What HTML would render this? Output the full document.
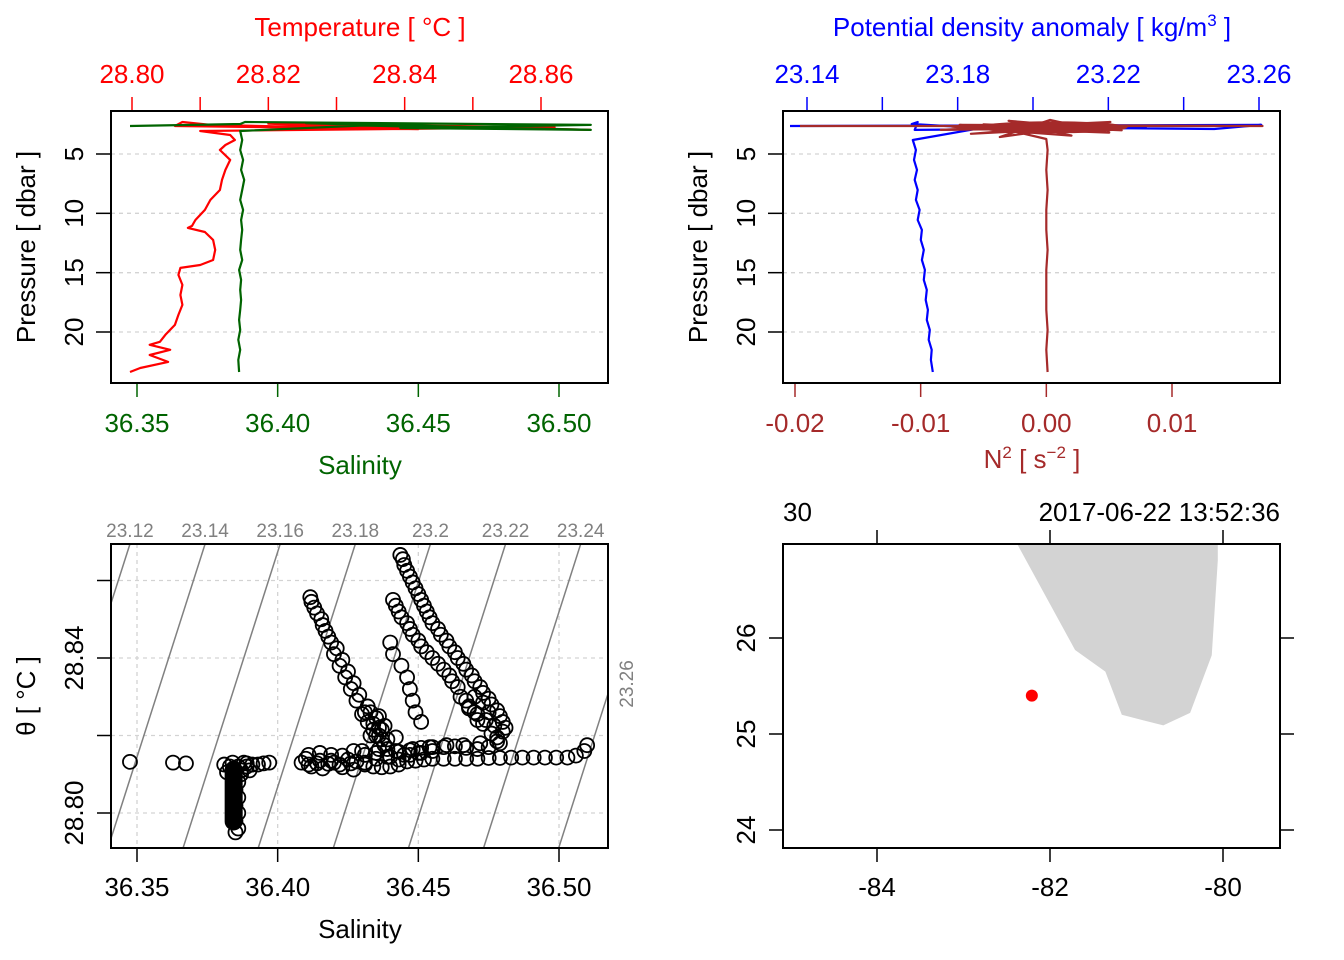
<!DOCTYPE html>
<html><head><meta charset="utf-8"><style>
html,body{margin:0;padding:0;background:#fff;overflow:hidden;}
svg{display:block;font-family:"Liberation Sans",sans-serif;}
</style></head><body>
<svg id="s" width="1344" height="960" viewBox="0 0 1344 960" xmlns="http://www.w3.org/2000/svg"></svg>
<script>
// ---- data ----
const tP=[2.97,2.81,2.72,2.55,2.30,2.64,2.90,2.45,2.75,3.06,3.40,3.82,4.24,4.66,5.50,6.34,7.18,8.03,8.87,9.71,10.56,11.06,11.23,11.57,12.24,13.08,13.93,14.35,14.60,15.19,16.03,16.88,17.72,18.56,19.40,20.24,20.83,21.08,21.50,21.94,22.52,23.03,23.37];
const tT=[28.8673,28.8570,28.8247,28.8115,28.8074,28.8063,28.8420,28.8200,28.8620,28.8100,28.8144,28.8151,28.8137,28.8129,28.8144,28.8137,28.8132,28.8129,28.8115,28.8107,28.8093,28.8088,28.8082,28.8107,28.8119,28.8122,28.8119,28.8100,28.8071,28.8068,28.8074,28.8071,28.8074,28.8068,28.8063,28.8049,28.8041,28.8026,28.8056,28.8026,28.8053,28.8012,28.7997];
const sP=[2.64,2.47,2.30,2.55,2.81,2.97,2.40,2.85,2.60,3.06,3.82,4.66,5.50,6.34,7.18,8.03,8.87,9.71,10.56,11.40,12.24,13.08,13.93,14.77,15.61,16.45,17.30,18.14,18.98,19.82,20.66,21.50,22.35,23.37];
const sS=[36.3475,36.3867,36.3884,36.5113,36.4436,36.5113,36.4100,36.4800,36.4300,36.3867,36.3874,36.3867,36.3877,36.3870,36.3881,36.3874,36.3867,36.3877,36.3870,36.3874,36.3870,36.3867,36.3874,36.3863,36.3870,36.3867,36.3870,36.3867,36.3863,36.3867,36.3860,36.3867,36.3860,36.3863];
const dP=[2.64,2.55,2.89,2.72,2.47,2.30,2.97,2.80,2.60,3.82,4.66,5.50,6.34,7.18,8.03,8.87,9.71,10.56,11.40,12.24,13.08,13.93,14.77,15.61,16.45,17.30,18.14,18.98,19.82,20.66,21.50,22.35,23.37];
const dS=[23.1355,23.2606,23.2481,23.1808,23.1678,23.1694,23.1686,23.2300,23.1900,23.1681,23.1689,23.1684,23.1692,23.1686,23.1694,23.1689,23.1699,23.1694,23.1705,23.1702,23.1710,23.1705,23.1713,23.1710,23.1718,23.1715,23.1721,23.1718,23.1726,23.1723,23.1731,23.1729,23.1734];
const nP=[2.64,2.64,2.55,3.06,2.13,3.57,2.30,2.97,2.81,3.30,2.40,3.20,2.70,3.45,2.20,3.00,2.50,3.74,4.66,6.34,8.03,9.71,11.40,13.08,14.77,16.45,18.14,19.82,21.50,23.37];
const nN=[-0.0196,0.0172,-0.0069,0.0043,0.0003,-0.0037,0.0051,-0.0084,0.0027,-0.0060,0.0045,0.0050,-0.0075,0.0020,-0.0030,0.0060,-0.0050,0.0000,0.0001,0.0000,0.0001,0.0000,0.0000,0.0001,0.0000,0.0000,0.0000,0.0001,0.0000,0.0001];
const tsS=[36.3475,36.3628,36.3674,36.384,36.386,36.387,36.386,36.385,36.386,36.385,36.386,36.385,36.386,36.385,36.387,36.383,36.388,36.389,36.391,36.393,36.395,36.397,36.4085,36.411,36.414,36.418,36.422,36.426,36.428,36.431,36.434,36.437,36.440,36.443,36.446,36.449,36.452,36.455,36.459,36.463,36.467,36.471,36.475,36.479,36.483,36.487,36.491,36.495,36.499,36.503,36.506,36.509,36.510,36.430,36.436,36.442,36.448,36.454,36.460,36.466,36.472,36.4116,36.413,36.4155,36.417,36.419,36.420,36.422,36.424,36.426,36.428,36.431,36.434,36.436,36.438,36.430,36.433,36.436,36.436,36.433,36.437,36.4436,36.445,36.447,36.449,36.451,36.453,36.455,36.458,36.461,36.464,36.467,36.470,36.473,36.476,36.479,36.481,36.441,36.443,36.446,36.448,36.451,36.455,36.459,36.462,36.465,36.468,36.471,36.440,36.441,36.444,36.446,36.447,36.448,36.449,36.451,36.470,36.473,36.475,36.415,36.420,36.425,36.440,36.445,36.450,36.478,36.480,
36.412,36.414,36.416,36.418,36.421,36.423,36.425,36.427,36.429,36.432,36.435,36.437,36.4445,36.446,36.448,36.450,36.452,36.454,36.457,36.460,36.463,36.466,36.469,36.472,36.475,36.478,36.480,36.442,36.444,36.447,36.450,36.453,36.457,36.461,36.464,36.467,36.470,36.473,36.476,36.478,36.410,36.412,36.416,36.419,36.423,36.427,36.431,36.435,36.439,36.443,36.447,36.451,36.455,36.459,36.463,36.467,36.471,36.475,36.479,36.411,36.415,36.419,36.423,36.427,36.431,36.435,36.439,36.443,36.447,36.451,36.455,36.432,36.434,36.438,36.435,36.439,36.442,36.468,36.471,36.474,36.477,36.381,36.389,36.382,36.390];
const tsT=[28.8132,28.8130,28.8128,28.813,28.812,28.810,28.808,28.806,28.804,28.802,28.800,28.798,28.796,28.795,28.811,28.812,28.813,28.812,28.8125,28.8125,28.8128,28.8130,28.8130,28.8125,28.8128,28.8127,28.8125,28.8128,28.8133,28.8125,28.812,28.8118,28.812,28.8125,28.8133,28.8135,28.8138,28.8140,28.814,28.814,28.814,28.814,28.8142,28.8142,28.8143,28.8143,28.8143,28.8143,28.8143,28.8143,28.8148,28.816,28.8175,28.816,28.8165,28.816,28.8165,28.817,28.8175,28.8175,28.818,28.8557,28.853,28.850,28.847,28.844,28.841,28.838,28.835,28.832,28.829,28.826,28.823,28.820,28.8175,28.8255,28.826,28.825,28.822,28.820,28.819,28.8666,28.864,28.861,28.858,28.855,28.852,28.849,28.846,28.843,28.840,28.837,28.834,28.831,28.828,28.825,28.822,28.855,28.852,28.849,28.846,28.843,28.840,28.837,28.834,28.830,28.827,28.824,28.844,28.841,28.838,28.835,28.832,28.829,28.826,28.8235,28.830,28.8285,28.826,28.8135,28.8130,28.8138,28.8145,28.8150,28.8155,28.8195,28.8210,
28.8545,28.8515,28.8485,28.8455,28.8425,28.8395,28.8365,28.8335,28.8305,28.8275,28.8245,28.8215,28.8655,28.8625,28.8595,28.8565,28.8535,28.8505,28.8475,28.8445,28.8415,28.8385,28.8355,28.8325,28.8295,28.8265,28.8235,28.8535,28.8505,28.8475,28.8445,28.8415,28.8385,28.8355,28.8325,28.8290,28.8260,28.8230,28.8205,28.8185,28.8140,28.8120,28.8115,28.8135,28.8118,28.8112,28.8130,28.8140,28.8145,28.8138,28.8150,28.8155,28.8160,28.8170,28.8172,28.8168,28.8165,28.8170,28.8180,28.8150,28.8155,28.8150,28.8148,28.8160,28.8150,28.8155,28.8165,28.8158,28.8162,28.8168,28.8170,28.8235,28.8215,28.8225,28.8200,28.8190,28.8195,28.8275,28.8255,28.8240,28.8225,28.8125,28.8128,28.8105,28.8110];
const rhoLevels=[23.12,23.14,23.16,23.18,23.20,23.22,23.24,23.26];
const landLon=[-82.38,-81.71,-81.36,-81.17,-80.69,-80.38,-80.13,-80.06,-80.06];
const landLat=[26.98,25.875,25.65,25.20,25.09,25.22,25.82,26.81,26.98];
const stnLon=[-82.21], stnLat=[25.40];
// ---- helpers ----
const NS='http://www.w3.org/2000/svg', svg=document.getElementById('s');
function mk(tag,at,txt,parent){const e=document.createElementNS(NS,tag);for(const k in at)e.setAttribute(k,at[k]);if(txt!=null)e.textContent=txt;(parent||svg).appendChild(e);return e;}
function lin(d0,d1,r0,r1){return v=>r0+(v-d0)*(r1-r0)/(d1-d0);}
const xS=lin(36.35,36.50,137,559);
const yP1=lin(5,20,154,332);
const xT=lin(28.80,28.86,132,541);
const xSig=lin(23.14,23.26,807,1259);
const xN=lin(-0.02,0.01,795,1172);
const yTh=lin(28.80,28.84,813,658);
const xLon=lin(-84,-80,877,1223);
const yLat=lin(24,26,830,638);
const FS=26;
function txt(x,y,s,col,size,anchor,rot,name){const a={x:x,y:y,fill:col,'font-size':size,'text-anchor':anchor||'middle'};if(rot)a.transform='rotate(-90 '+x+' '+y+')';const e=mk('text',a,s);return e;}
function line(x1,y1,x2,y2,col,w,dash,name){const a={x1:x1,y1:y1,x2:x2,y2:y2,stroke:col,'stroke-width':w};if(dash)a['stroke-dasharray']=dash;const e=mk('line',a);return e;}
function box(x,y,w,h,name){const e=mk('rect',{x:x,y:y,width:w,height:h,fill:'none',stroke:'#000','stroke-width':2});}
function poly(xs,ys,col,w,name,clip){const pts=xs.map((x,i)=>x.toFixed(1)+','+ys[i].toFixed(1)).join(' ');const a={points:pts,fill:'none',stroke:col,'stroke-width':w,'stroke-linejoin':'round'};if(clip)a['clip-path']=clip;const e=mk('polyline',a);}
const defs=mk('defs',{});
[['c1',111,111,272],['c2',783,111,272],['c3',111,544,304],['c4',783,544,304]].forEach(c=>{const cp=mk('clipPath',{id:c[0]},null,defs);mk('rect',{x:c[1],y:c[2],width:497,height:c[3]},null,cp);});
const G='#d3d3d3', RED='#ff0000', GRN='#006400', BLU='#0000ff', BRN='#a52a2a';

// ---- Panel 1 ----
[5,10,15,20].forEach(p=>{line(111,yP1(p),608,yP1(p),G,1.3,'4,4','pressure-grid');line(96,yP1(p),111,yP1(p),'#000',1.5,null,'pressure-tick');txt(83,yP1(p),String(p),'#000',FS,'middle',true,'pressure-tick-label');});
txt(35,247,'Pressure [ dbar ]','#000',FS,'middle',true,'y-axis-title');
[36.35,36.40,36.45,36.50].forEach(s=>{line(xS(s),383,xS(s),397,GRN,1.5,null,'salinity-tick');txt(xS(s),432,s.toFixed(2),GRN,FS,'middle',false,'salinity-tick-label');});
txt(360,474,'Salinity',GRN,FS,'middle',false,'salinity-axis-title');
[28.80,28.81,28.82,28.83,28.84,28.85,28.86].forEach((t,i)=>{line(xT(t),97,xT(t),111,RED,1.5,null,'temperature-tick');if(i%2==0)txt(xT(t),83,t.toFixed(2),RED,FS,'middle',false,'temperature-tick-label');});
txt(360,36,'Temperature [ °C ]',RED,FS,'middle',false,'temperature-axis-title');
poly(tT.map(xT),tP.map(yP1),RED,2.2,'temperature-profile','url(#c1)');
poly(sS.map(xS),sP.map(yP1),GRN,2.2,'salinity-profile','url(#c1)');
box(111,111,497,272,'profile-panel-frame');

// ---- Panel 2 ----
[5,10,15,20].forEach(p=>{line(783,yP1(p),1280,yP1(p),G,1.3,'4,4','pressure-grid');line(768,yP1(p),783,yP1(p),'#000',1.5,null,'pressure-tick');txt(755,yP1(p),String(p),'#000',FS,'middle',true,'pressure-tick-label');});
txt(707,247,'Pressure [ dbar ]','#000',FS,'middle',true,'y-axis-title-2');
[23.14,23.16,23.18,23.20,23.22,23.24,23.26].forEach((s,i)=>{line(xSig(s),97,xSig(s),111,BLU,1.5,null,'density-tick');if(i%2==0)txt(xSig(s),83,s.toFixed(2),BLU,FS,'middle',false,'density-tick-label');});
const dt=txt(1032,36,'Potential density anomaly [ kg/m','#0000ff',FS,'middle',false,'density-axis-title');
mk('tspan',{dy:-10,'font-size':17},'3',dt);mk('tspan',{dy:10},' ]',dt);
[-0.02,-0.01,0.00,0.01].forEach(n=>{line(xN(n),383,xN(n),397,BRN,1.5,null,'n2-tick');txt(xN(n),432,n.toFixed(2),BRN,FS,'middle',false,'n2-tick-label');});
const nt=txt(1032,468,'N',BRN,FS,'middle',false,'n2-axis-title');
mk('tspan',{dy:-10,'font-size':17},'2',nt);mk('tspan',{dy:10},' [ s',nt);mk('tspan',{dy:-10,'font-size':17},'−2',nt);mk('tspan',{dy:10},' ]',nt);
poly(dS.map(xSig),dP.map(yP1),BLU,2.2,'density-profile','url(#c2)');
poly(nN.map(xN),nP.map(yP1),BRN,2.2,'n2-profile','url(#c2)');
const nb=mk('ellipse',{cx:xN(0.0005),cy:yP1(2.75),rx:75,ry:6,fill:BRN,'clip-path':'url(#c2)'});

box(783,111,497,272,'density-panel-frame');

// ---- Panel 3: TS ----
[36.35,36.40,36.45,36.50].forEach(s=>{line(xS(s),544,xS(s),848,G,1.3,'4,4','ts-grid-v');line(xS(s),848,xS(s),862,'#000',1.5,null,'ts-salinity-tick');txt(xS(s),896,s.toFixed(2),'#000',FS,'middle',false,'ts-salinity-tick-label');});
[28.80,28.82,28.84,28.86].forEach(t=>{line(111,yTh(t),608,yTh(t),G,1.3,'4,4','ts-grid-h');line(97,yTh(t),111,yTh(t),'#000',1.5,null,'theta-tick');});
[28.80,28.84].forEach(t=>txt(83,yTh(t),t.toFixed(2),'#000',FS,'middle',true,'theta-tick-label'));
txt(360,938,'Salinity','#000',FS,'middle',false,'ts-x-axis-title');
txt(35,696,'θ [ °C ]','#000',FS,'middle',true,'ts-y-axis-title');
// isopycnals: sigma ≈ 23.14 + 0.749*(S-36.3742) - 0.3297*(θ-28.8694)
const B=0.749, C=0.3297, S0=36.3742, T0=28.8694;
const thBot=28.80+(813-848)/77.5*0.02, sRight=36.35+(608-137)/140.5*0.05;
function sAt(sig,th){return S0+(sig-23.14+C*(th-T0))/B;}
rhoLevels.forEach(r=>{const x1=xS(sAt(r,T0)),x2=xS(sAt(r,thBot));const e=mk('line',{x1:x1,y1:544,x2:x2,y2:848,stroke:'#808080','stroke-width':1.5,'clip-path':'url(#c3)'});
 const lab=(Math.round(r*100)%10==0)?r.toFixed(1):r.toFixed(2);
 if(x1<=612)txt(x1,537,lab,'#808080',19,'middle',false,'isopycnal-label');
 else{const th=T0+(B*(sRight-S0)-(r-23.14))/C;txt(633,yTh(th)-8,lab,'#808080',19,'middle',true,'isopycnal-label');}});
const blob=mk('rect',{x:xS(36.384)-8,y:yTh(28.8135),width:18,height:yTh(28.7955)-yTh(28.8135),rx:9,fill:'#000'});

const g3=mk('g',{'clip-path':'url(#c3)'});
tsS.forEach((s,i)=>{const c=mk('circle',{cx:xS(s),cy:yTh(tsT[i]),r:7,fill:'none',stroke:'#000','stroke-width':1.8},null,g3);});
box(111,544,497,304,'ts-panel-frame');

// ---- Panel 4: map ----
const lp=mk('polygon',{points:landLon.map((l,i)=>xLon(l)+','+yLat(landLat[i])).join(' '),fill:'#d3d3d3',stroke:'none','clip-path':'url(#c4)'});

stnLon.forEach((l,i)=>{const c=mk('circle',{cx:xLon(l),cy:yLat(stnLat[i]),r:6,fill:RED});});
[-84,-82,-80].forEach(l=>{line(xLon(l),848,xLon(l),862,'#000',1.5,null,'longitude-tick');line(xLon(l),530,xLon(l),544,'#000',1.5,null,'longitude-top-tick');txt(xLon(l),896,String(l),'#000',FS,'middle',false,'longitude-tick-label');});
[24,25,26].forEach(l=>{line(769,yLat(l),783,yLat(l),'#000',1.5,null,'latitude-tick');line(1280,yLat(l),1294,yLat(l),'#000',1.5,null,'latitude-right-tick');txt(755,yLat(l),String(l),'#000',FS,'middle',true,'latitude-tick-label');});
txt(783,521,'30','#000',FS,'start',false,'station-depth-label');
txt(1280,521,'2017-06-22 13:52:36','#000',FS,'end',false,'station-time-label');
box(783,544,497,304,'map-panel-frame');
</script>
</body></html>
